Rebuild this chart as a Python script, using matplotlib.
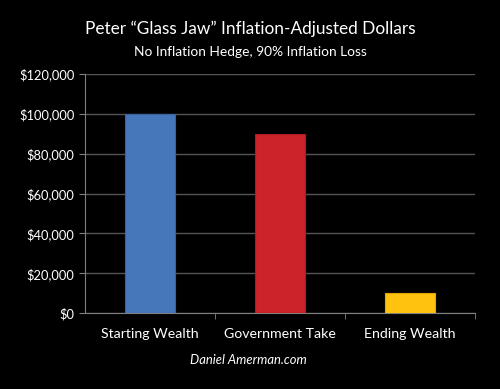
import numpy as np
import matplotlib.pyplot as plt
from matplotlib.ticker import FuncFormatter

categories = ['Starting Wealth', 'Government Take', 'Ending Wealth']
values = [100000, 90000, 10000]
colors = ['#4677ba', '#cc2229', '#ffc20e']
edges = ['#3a64a0', '#a81c22', '#e0a800']

plt.rcParams['font.family'] = ['Lato', 'DejaVu Sans']

fig = plt.figure(figsize=(5, 3.89), dpi=100, facecolor='black')
ax = fig.add_axes([0.17, 0.195, 0.78, 0.615], facecolor='black')

x = np.arange(len(categories))
ax.bar(x, values, width=0.39, color=colors, edgecolor=edges, linewidth=0.8, zorder=3)

ax.set_xlim(-0.5, 2.5)
ax.set_ylim(0, 120000)
ax.set_yticks(np.arange(0, 120001, 20000))
ax.yaxis.set_major_formatter(FuncFormatter(lambda v, p: '${:,.0f}'.format(v)))
ax.grid(axis='y', color='#555555', linewidth=1, zorder=0)

ax.set_xticks(x)
ax.set_xticklabels(categories)
ax.set_xticks([0.5, 1.5, 2.5], minor=True)
ax.tick_params(axis='x', which='major', length=0, pad=11, colors='white', labelsize=10.2)
ax.tick_params(axis='x', which='minor', length=4, color='#808080')
ax.tick_params(axis='y', length=4, color='#808080', colors='white', labelsize=9.3)

for s in ['top', 'right']:
    ax.spines[s].set_visible(False)
for s in ['left', 'bottom']:
    ax.spines[s].set_color('#808080')

fig.text(0.5, 0.927, 'Peter \u201cGlass Jaw\u201d Inflation-Adjusted Dollars',
         ha='center', va='center', color='white', fontsize=12.4)
fig.text(0.5, 0.866, 'No Inflation Hedge, 90% Inflation Loss',
         ha='center', va='center', color='white', fontsize=9.9)
fig.text(0.496, 0.075, 'Daniel Amerman.com', ha='center', va='center',
         color='white', fontsize=9.4, style='italic')

plt.savefig('out.png', dpi=100, facecolor='black')
